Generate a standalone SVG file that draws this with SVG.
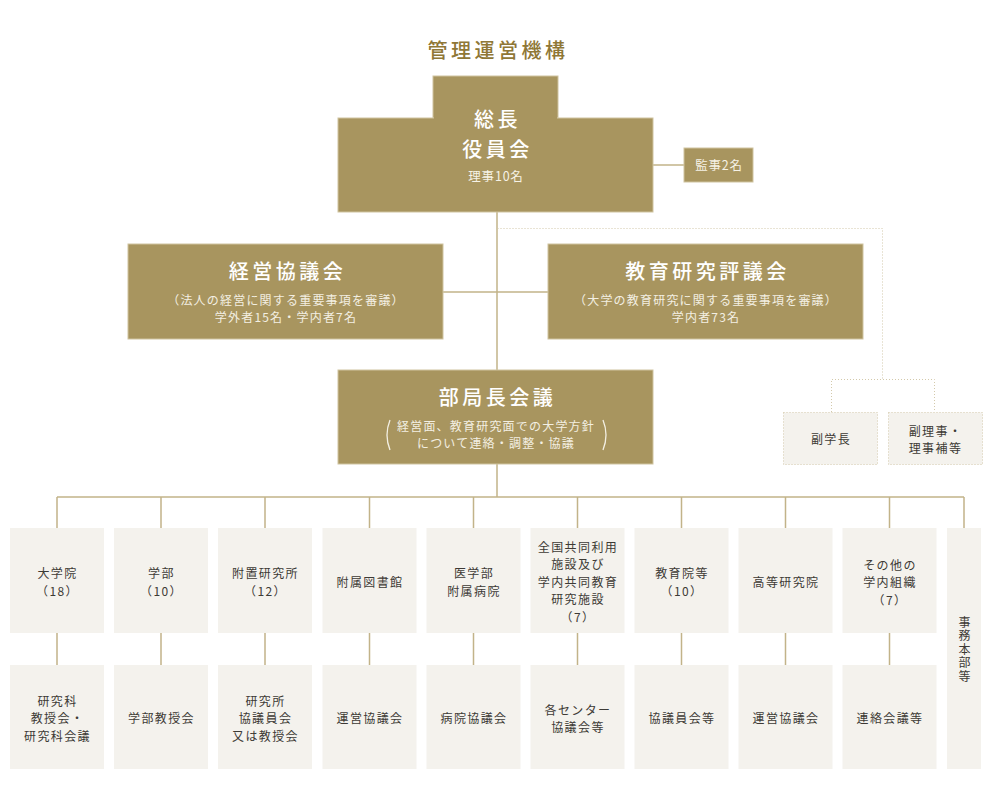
<svg xmlns="http://www.w3.org/2000/svg" width="1000" height="795" viewBox="0 0 1000 795">
<style>
text{font-family:"Noto Sans CJK JP","Noto Sans",sans-serif;text-anchor:middle}
.gold{fill:#a8955f;stroke:#cfc3a0;stroke-width:1}
.light{fill:#f4f2ed}
.dotbox{fill:#f4f2ed;stroke:#d3c9ab;stroke-width:1;stroke-dasharray:1 2}
.ttl{fill:#8f7736;font-size:20px;font-weight:500;letter-spacing:3.5px}
.big{fill:#ffffff;font-size:20px;font-weight:500;letter-spacing:3.5px}
.sub{fill:#f3efe2;font-size:12px;letter-spacing:1.2px}
.mid{fill:#f6f2e6;font-size:12.5px;letter-spacing:0.8px}
.dk{fill:#3d3a35;font-size:12px;letter-spacing:1.4px}
.vt{writing-mode:vertical-rl;letter-spacing:1.5px}
.par{fill:none;stroke:#f3efe2;stroke-width:1.3}
.ln{stroke:#c2b389;stroke-width:1.5;fill:none}
.dl{stroke:#d3c9ab;stroke-width:1;fill:none;stroke-dasharray:1 2}
</style>
<rect width="1000" height="795" fill="#ffffff"/>
<text class="ttl" x="498" y="58">管理運営機構</text>

<g id="connectors">
<line class="ln" x1="497" y1="212" x2="497" y2="370"/>
<line class="ln" x1="653" y1="165" x2="684" y2="165"/>
<line class="ln" x1="443" y1="292" x2="548" y2="292"/>
<path class="dl" d="M497.5 228.5 H882.5 V379.5 M831.5 412 V379.5 H934.5 V412"/>
<line class="ln" x1="497" y1="464" x2="497" y2="497"/>
<line class="ln" x1="57" y1="497" x2="964" y2="497"/>
<path class="ln" d="M57 497V528 M161 497V528 M265 497V528 M369.5 497V528 M473.5 497V528 M577.5 497V528 M681.5 497V528 M785.5 497V528 M889.5 497V528 M964 497V528"/>
<path class="ln" d="M57 633V665 M161 633V665 M265 633V665 M369.5 633V665 M473.5 633V665 M577.5 633V665 M681.5 633V665 M785.5 633V665 M889.5 633V665"/>
</g>

<g id="president">
<rect class="gold" x="433" y="76" width="125" height="42"/>
<rect class="gold" x="338" y="118" width="315" height="94"/>
<rect x="434" y="116" width="123" height="3" fill="#a8955f"/>
<text class="big" x="497.5" y="127">総長<tspan x="497.5" dy="30">役員会</tspan></text>
<text class="mid" x="496" y="181">理事10名</text>
</g>

<g id="auditor">
<rect class="gold" x="684" y="148" width="69" height="34"/>
<text class="mid" x="719" y="170">監事2名</text>
</g>

<g id="management-council">
<rect class="gold" x="128" y="244" width="315" height="95"/>
<text class="big" x="287.5" y="279">経営協議会</text>
<text class="sub" x="286" y="305">（法人の経営に関する重要事項を審議）<tspan x="286" dy="17">学外者15名・学内者7名</tspan></text>
</g>

<g id="education-council">
<rect class="gold" x="548" y="244" width="315" height="95"/>
<text class="big" x="707.5" y="279">教育研究評議会</text>
<text class="sub" x="706" y="305">（大学の教育研究に関する重要事項を審議）<tspan x="706" dy="17">学内者73名</tspan></text>
</g>

<g id="deans-council">
<rect class="gold" x="338" y="370" width="315" height="94"/>
<text class="big" x="497.5" y="405">部局長会議</text>
<text class="sub" x="496" y="431">経営面、教育研究面での大学方針<tspan x="496" dy="17">について連絡・調整・協議</tspan></text>
<path class="par" d="M390 420 Q384 435 390 450"/>
<path class="par" d="M603 420 Q609 435 603 450"/>
</g>

<g id="vice-president">
<rect class="dotbox" x="783.5" y="412.5" width="94" height="52"/>
<text class="dk" x="831" y="443.5">副学長</text>
</g>
<g id="vice-director">
<rect class="dotbox" x="888.5" y="412.5" width="94" height="52"/>
<text class="dk" x="935.5" y="435.5">副理事・<tspan x="935.5" dy="17.5">理事補等</tspan></text>
</g>

<g id="col0">
<rect class="light" x="10" y="528" width="94" height="105"/>
<text class="dk" x="57.5" y="578">大学院<tspan x="57.5" dy="17.5">（18）</tspan></text>
</g>
<g id="col0b">
<rect class="light" x="10" y="665" width="94" height="104"/>
<text class="dk" x="57.5" y="705.5">研究科<tspan x="57.5" dy="17.5">教授会・</tspan><tspan x="57.5" dy="17.5">研究科会議</tspan></text>
</g>

<g id="col1">
<rect class="light" x="114" y="528" width="94" height="105"/>
<text class="dk" x="161.5" y="578">学部<tspan x="161.5" dy="17.5">（10）</tspan></text>
</g>
<g id="col1b">
<rect class="light" x="114" y="665" width="94" height="104"/>
<text class="dk" x="161.5" y="723">学部教授会</text>
</g>

<g id="col2">
<rect class="light" x="218" y="528" width="94" height="105"/>
<text class="dk" x="265.5" y="578">附置研究所<tspan x="265.5" dy="17.5">（12）</tspan></text>
</g>
<g id="col2b">
<rect class="light" x="218" y="665" width="94" height="104"/>
<text class="dk" x="265.5" y="705.5">研究所<tspan x="265.5" dy="17.5">協議員会</tspan><tspan x="265.5" dy="17.5">又は教授会</tspan></text>
</g>

<g id="col3">
<rect class="light" x="322.5" y="528" width="94" height="105"/>
<text class="dk" x="370" y="586.5">附属図書館</text>
</g>
<g id="col3b">
<rect class="light" x="322.5" y="665" width="94" height="104"/>
<text class="dk" x="370" y="723">運営協議会</text>
</g>

<g id="col4">
<rect class="light" x="426.5" y="528" width="94" height="105"/>
<text class="dk" x="474" y="578">医学部<tspan x="474" dy="17.5">附属病院</tspan></text>
</g>
<g id="col4b">
<rect class="light" x="426.5" y="665" width="94" height="104"/>
<text class="dk" x="474" y="723">病院協議会</text>
</g>

<g id="col5">
<rect class="light" x="530.5" y="528" width="94" height="105"/>
<text class="dk" x="578" y="551.5">全国共同利用<tspan x="578" dy="17.5">施設及び</tspan><tspan x="578" dy="17.5">学内共同教育</tspan><tspan x="578" dy="17.5">研究施設</tspan><tspan x="578" dy="17.5">（7）</tspan></text>
</g>
<g id="col5b">
<rect class="light" x="530.5" y="665" width="94" height="104"/>
<text class="dk" x="578" y="714.5">各センター<tspan x="578" dy="17.5">協議会等</tspan></text>
</g>

<g id="col6">
<rect class="light" x="634.5" y="528" width="94" height="105"/>
<text class="dk" x="682" y="578">教育院等<tspan x="682" dy="17.5">（10）</tspan></text>
</g>
<g id="col6b">
<rect class="light" x="634.5" y="665" width="94" height="104"/>
<text class="dk" x="682" y="723">協議員会等</text>
</g>

<g id="col7">
<rect class="light" x="738.5" y="528" width="94" height="105"/>
<text class="dk" x="786" y="586.5">高等研究院</text>
</g>
<g id="col7b">
<rect class="light" x="738.5" y="665" width="94" height="104"/>
<text class="dk" x="786" y="723">運営協議会</text>
</g>

<g id="col8">
<rect class="light" x="842.5" y="528" width="94" height="105"/>
<text class="dk" x="890" y="569.5">その他の<tspan x="890" dy="17.5">学内組織</tspan><tspan x="890" dy="17.5">（7）</tspan></text>
</g>
<g id="col8b">
<rect class="light" x="842.5" y="665" width="94" height="104"/>
<text class="dk" x="890" y="723">連絡会議等</text>
</g>

<g id="secretariat">
<rect class="light" x="947" y="528" width="34" height="241"/>
<text class="dk vt" x="964.5" y="650">事務本部等</text>
</g>
</svg>
